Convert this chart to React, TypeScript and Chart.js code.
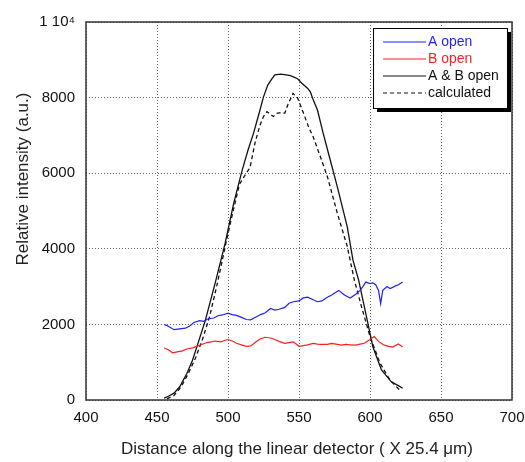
import React, { useEffect, useRef } from "react";
import { Chart, registerables } from "chart.js";

Chart.register(...registerables);

const xTicks = [400, 450, 500, 550, 600, 650, 700];
const yTicks = [0, 2000, 4000, 6000, 8000, 10000];

const aOpenX = [455, 458, 462, 466, 470, 473, 476, 480, 483, 486, 490, 493, 496, 500, 503, 506, 510, 513, 516, 520, 523, 526, 530, 533, 536, 540, 543, 546, 550, 553, 556, 560, 563, 566, 570, 573, 576, 578, 582, 586, 590, 593, 595, 597, 600, 602, 604, 606, 607.5, 609, 612, 614, 616, 618, 620, 623];
const aOpenY = [2000, 1950, 1860, 1880, 1900, 1960, 2050, 2100, 2080, 2150, 2170, 2230, 2250, 2300, 2260, 2240, 2180, 2130, 2120, 2200, 2260, 2300, 2420, 2380, 2400, 2450, 2560, 2600, 2620, 2700, 2720, 2650, 2600, 2620, 2720, 2780, 2850, 2900, 2780, 2700, 2800, 2900, 3000, 3120, 3080, 3100, 3050, 2900, 2550, 2900, 3000, 2950, 2980, 3020, 3050, 3120];

const bOpenX = [455, 458, 461, 465, 468, 471, 475, 478, 481, 485, 488, 491, 495, 498, 500, 503, 506, 510, 513, 516, 520, 523, 526, 530, 533, 536, 540, 543, 546, 550, 553, 556, 560, 563, 566, 570, 573, 576, 580, 583, 586, 590, 593, 596, 600, 603, 606, 610, 613, 616, 620, 623];
const bOpenY = [1375, 1330, 1250, 1280, 1300, 1350, 1380, 1420, 1460, 1520, 1540, 1560, 1540, 1580, 1600, 1560, 1500, 1450, 1420, 1430, 1550, 1620, 1660, 1640, 1600, 1550, 1500, 1520, 1540, 1420, 1440, 1460, 1500, 1480, 1470, 1470, 1500, 1480, 1450, 1470, 1460, 1450, 1480, 1500, 1600, 1680, 1550, 1450, 1420, 1400, 1480, 1400];

const abOpenX = [455, 458, 462, 466, 471, 475, 478, 484, 491, 498, 504, 510, 514, 518, 522, 525, 528, 531, 533, 537, 541, 544, 546, 549, 552, 556, 558, 560, 563, 567, 572, 577, 584, 588, 592, 598, 602, 608, 615, 620, 623];
const abOpenY = [50, 100, 180, 350, 700, 1050, 1400, 2100, 3100, 4150, 5200, 6080, 6600, 7060, 7600, 8020, 8330, 8500, 8600, 8620, 8600, 8580, 8550, 8500, 8380, 8250, 8150, 7940, 7670, 7060, 6350, 5640, 4580, 3700, 3170, 2120, 1410, 800, 480, 380, 310];

const calcX = [457, 462, 467, 472, 477, 482, 487, 492, 496, 499, 503, 508, 512, 515.5, 519, 522.5, 525, 527.5, 530, 532, 534, 537, 540, 542, 545.8, 549, 551, 554, 557, 560, 565, 570, 577, 584, 589, 594, 600, 607, 614, 621];
const calcY = [30, 120, 350, 700, 1100, 1600, 2200, 3000, 3700, 4230, 4900, 5700, 5950, 6150, 6800, 7270, 7500, 7630, 7550, 7500, 7580, 7600, 7590, 7800, 8110, 7990, 7800, 7500, 7200, 6960, 6440, 5910, 4940, 4060, 3170, 2470, 1680, 980, 530, 260];

const seriesNames = ["A open", "B open", "A & B open", "calculated"];
const seriesColors = ["#1f1fff", "#ff1f1f", "#111111", "#111111"];
const xTitle = "Distance along the linear detector ( X 25.4 μm)";
const yTitle = "Relative intensity (a.u.)";

const FAMILY = "'Liberation Sans', Arial, sans-serif";

const pts = (xs: number[], ys: number[]) => xs.map((x, i) => ({ x, y: ys[i] }));

const framePlugin = {
  id: "frameAndLegend",
  afterDraw(chart: any) {
    const { ctx, chartArea } = chart;
    const { left, right, top, bottom } = chartArea;
    ctx.save();
    ctx.strokeStyle = "#333";
    ctx.lineWidth = 1.5;
    ctx.strokeRect(left, top, right - left, bottom - top);

    // axis titles
    ctx.fillStyle = "#222";
    ctx.font = `17px ${FAMILY}`;
    ctx.textAlign = "center";
    ctx.textBaseline = "middle";
    ctx.fillText(xTitle, 297, 449);
    ctx.save();
    ctx.translate(23, 179);
    ctx.rotate(-Math.PI / 2);
    ctx.fillText(yTitle, 0, 0);
    ctx.restore();

    // legend box
    const lx = 373, ly = 28, lw = 134, lh = 80;
    ctx.fillStyle = "#000";
    ctx.fillRect(lx + 4, ly + 4, lw, lh);
    ctx.fillStyle = "#fff";
    ctx.fillRect(lx, ly, lw, lh);
    ctx.strokeStyle = "#000";
    ctx.lineWidth = 1;
    ctx.strokeRect(lx + 0.5, ly + 0.5, lw, lh);
    ctx.font = `14px ${FAMILY}`;
    ctx.textAlign = "left";
    ctx.textBaseline = "middle";
    seriesNames.forEach((name, i) => {
      const yy = ly + 14 + i * 17;
      ctx.strokeStyle = seriesColors[i];
      ctx.lineWidth = 1.2;
      ctx.setLineDash(i === 3 ? [4, 3] : []);
      ctx.beginPath();
      ctx.moveTo(lx + 10, yy);
      ctx.lineTo(lx + 53, yy);
      ctx.stroke();
      ctx.setLineDash([]);
      ctx.fillStyle = i < 2 ? seriesColors[i] : "#111";
      ctx.fillText(name, lx + 55, yy);
    });
    ctx.restore();
  },
};

export default function App() {
  const ref = useRef<HTMLCanvasElement | null>(null);
  useEffect(() => {
    document.body.style.margin = "0";
    const canvas = ref.current!;
    const font = { family: FAMILY, size: 15 };
    const chart = new Chart(canvas, {
      type: "line",
      data: {
        datasets: [
          { label: seriesNames[0], data: pts(aOpenX, aOpenY), borderColor: seriesColors[0], borderWidth: 1.2 },
          { label: seriesNames[1], data: pts(bOpenX, bOpenY), borderColor: seriesColors[1], borderWidth: 1.2 },
          { label: seriesNames[2], data: pts(abOpenX, abOpenY), borderColor: seriesColors[2], borderWidth: 1.3 },
          { label: seriesNames[3], data: pts(calcX, calcY), borderColor: seriesColors[3], borderWidth: 1.3, borderDash: [4, 3] },
        ],
      },
      options: {
        animation: false,
        responsive: false,
        elements: { point: { radius: 0 }, line: { tension: 0 } },
        layout: { padding: { left: 0, right: 13, top: 22, bottom: 0 } },
        plugins: { legend: { display: false }, tooltip: { enabled: false } },
        scales: {
          x: {
            type: "linear",
            min: 400,
            max: 700,
            afterBuildTicks: (s: any) => { s.ticks = xTicks.map((v) => ({ value: v })); },
            afterFit: (s: any) => { s.height = 62; s.paddingRight = 0; s.paddingLeft = 0; },
            grid: { color: "#666", drawTicks: false, lineWidth: 1 },
            border: { display: false, dash: [1, 2] },
            ticks: { color: "#111", font, padding: 9, maxRotation: 0 },
            title: { display: false },
          },
          y: {
            type: "linear",
            min: 0,
            max: 10000,
            afterBuildTicks: (s: any) => { s.ticks = yTicks.map((v) => ({ value: v })); },
            afterFit: (s: any) => { s.width = 86; s.paddingTop = 0; s.paddingBottom = 0; },
            grid: { color: "#666", drawTicks: false, lineWidth: 1 },
            border: { display: false, dash: [1, 2] },
            ticks: {
              color: "#111",
              font,
              padding: 11,
              callback: (v: any) => (v === 10000 ? "1 10⁴" : String(v)),
            },
            title: { display: false },
          },
        },
      },
      plugins: [framePlugin],
    } as any);
    return () => chart.destroy();
  }, []);
  return <canvas ref={ref} width={525} height={462} style={{ display: "block" }} />;
}
